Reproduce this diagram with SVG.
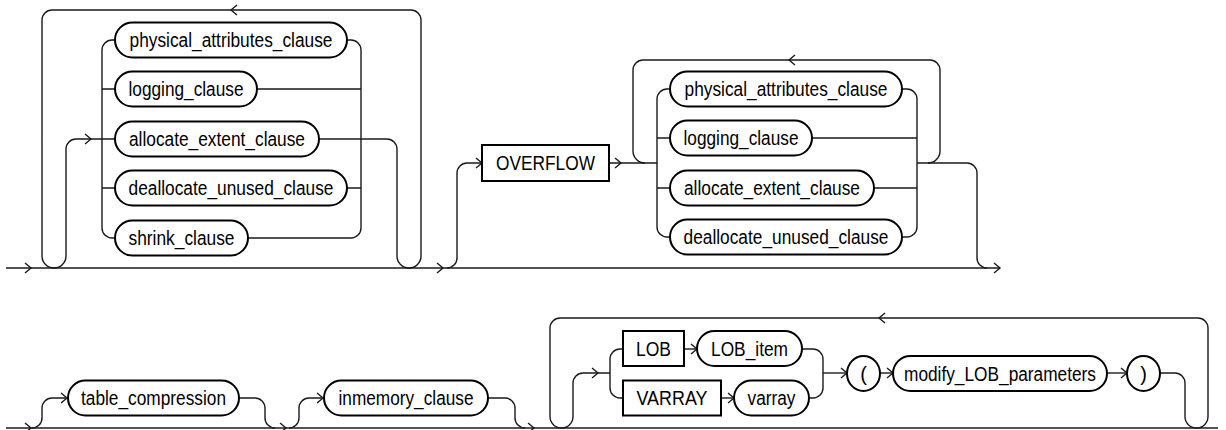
<svg xmlns="http://www.w3.org/2000/svg" xmlns:xlink="http://www.w3.org/1999/xlink" width="1226" height="430" viewBox="0 0 1226 430">
<style>
.ln{fill:none;stroke:#1a1a1a;stroke-width:1.4}
.nt{fill:#fff;stroke:#000;stroke-width:2}
.tx{font-family:"Liberation Sans",Arial,sans-serif;font-size:20px;fill:#000;text-anchor:middle}
</style>
<defs>
<path id="ar" d="M -6 -5 L 0 0 L -6 5" fill="none" stroke="#1a1a1a" stroke-width="1.4"/>
</defs>
<rect width="1226" height="430" fill="#fff"/>
<g id="connectors">
<path class="ln" d="M 6 268 L 1000 268"/>
<use xlink:href="#ar" transform="translate(31,268)"/>
<use xlink:href="#ar" transform="translate(1000,268)"/>
<path class="ln" d="M 115 139 L 76 139 A 10 10 0 0 0 66 149 L 66 256 A 12 12 0 0 1 42 256 L 42 20 A 10 10 0 0 1 52 10 L 411 10 A 10 10 0 0 1 421 20 L 421 256 A 12 12 0 0 1 397 256 L 397 149 A 10 10 0 0 0 387 139 L 319 139"/>
<use xlink:href="#ar" transform="translate(91,139)"/>
<use xlink:href="#ar" transform="translate(231,10) rotate(180)"/>
<path class="ln" d="M 115 40 L 112 40 A 10 10 0 0 0 102 50 L 102 228 A 10 10 0 0 0 112 238 L 115 238"/>
<path class="ln" d="M 102 89 L 115 89 M 102 188 L 115 188"/>
<path class="ln" d="M 347 40 L 351 40 A 10 10 0 0 1 361 50 L 361 228 A 10 10 0 0 1 351 238 L 248 238"/>
<path class="ln" d="M 257 89 L 361 89 M 347 188 L 361 188"/>
<path class="ln" d="M 447 268 A 10 10 0 0 0 457 258 L 457 173 A 10 10 0 0 1 467 163 L 482 163"/>
<use xlink:href="#ar" transform="translate(443,268)"/>
<use xlink:href="#ar" transform="translate(482,163)"/>
<path class="ln" d="M 609 163 L 657 163"/>
<use xlink:href="#ar" transform="translate(621,163)"/>
<path class="ln" d="M 645 163 A 12 12 0 0 1 633 151 L 633 70 A 10 10 0 0 1 643 60 L 930 60 A 10 10 0 0 1 940 70 L 940 151 A 12 12 0 0 1 928 163"/>
<use xlink:href="#ar" transform="translate(789,60) rotate(180)"/>
<path class="ln" d="M 670 89 L 667 89 A 10 10 0 0 0 657 99 L 657 227 A 10 10 0 0 0 667 237 L 670 237"/>
<path class="ln" d="M 657 138 L 670 138 M 657 188 L 670 188"/>
<path class="ln" d="M 902 89 L 907 89 A 10 10 0 0 1 917 99 L 917 227 A 10 10 0 0 1 907 237 L 902 237"/>
<path class="ln" d="M 812 138 L 917 138 M 874 188 L 917 188"/>
<path class="ln" d="M 917 163 L 967 163 A 10 10 0 0 1 977 173 L 977 258 A 10 10 0 0 0 987 268"/>
<path class="ln" d="M 6 428 L 1218 428"/>
<use xlink:href="#ar" transform="translate(31,428)"/>
<path class="ln" d="M 32 428 A 10 10 0 0 0 42 418 L 42 408 A 10 10 0 0 1 52 398 L 68 398"/>
<use xlink:href="#ar" transform="translate(67,398)"/>
<path class="ln" d="M 239 398 L 255 398 A 10 10 0 0 1 265 408 L 265 418 A 10 10 0 0 0 275 428"/>
<use xlink:href="#ar" transform="translate(286,428)"/>
<path class="ln" d="M 289 428 A 10 10 0 0 0 299 418 L 299 408 A 10 10 0 0 1 309 398 L 324 398"/>
<use xlink:href="#ar" transform="translate(323,398)"/>
<path class="ln" d="M 488 398 L 505 398 A 10 10 0 0 1 515 408 L 515 418 A 10 10 0 0 0 525 428"/>
<use xlink:href="#ar" transform="translate(534,428)"/>
<path class="ln" d="M 610 373 L 583 373 A 10 10 0 0 0 573 383 L 573 416.5 A 11.5 11.5 0 0 1 550 416.5 L 550 328 A 10 10 0 0 1 560 318 L 1198 318 A 10 10 0 0 1 1208 328 L 1208 416.5 A 11.5 11.5 0 0 1 1185 416.5 L 1185 383 A 10 10 0 0 0 1175 373 L 1160 373"/>
<use xlink:href="#ar" transform="translate(598,373)"/>
<use xlink:href="#ar" transform="translate(879,318) rotate(180)"/>
<path class="ln" d="M 623 349 L 620 349 A 10 10 0 0 0 610 359 L 610 388 A 10 10 0 0 0 620 398 L 623 398"/>
<path class="ln" d="M 684 349 L 697 349"/>
<use xlink:href="#ar" transform="translate(697,349)"/>
<path class="ln" d="M 721 398 L 734 398"/>
<use xlink:href="#ar" transform="translate(734,398)"/>
<path class="ln" d="M 802 349 L 813 349 A 10 10 0 0 1 823 359 L 823 388 A 10 10 0 0 1 813 398 L 809 398"/>
<path class="ln" d="M 823 373 L 847 373"/>
<use xlink:href="#ar" transform="translate(847,373)"/>
<path class="ln" d="M 880 373 L 893 373"/>
<use xlink:href="#ar" transform="translate(893,373)"/>
<path class="ln" d="M 1107 373 L 1127 373"/>
<use xlink:href="#ar" transform="translate(1127,373)"/>
</g>
<g id="nA1"><rect class="nt" x="115" y="22.5" width="232" height="35" rx="17.5"/><text class="tx" x="231" y="47" textLength="203" lengthAdjust="spacingAndGlyphs">physical_attributes_clause</text></g>
<g id="nA2"><rect class="nt" x="115" y="71.5" width="142" height="35" rx="17.5"/><text class="tx" x="186" y="96" textLength="115" lengthAdjust="spacingAndGlyphs">logging_clause</text></g>
<g id="nA3"><rect class="nt" x="115" y="121.5" width="204" height="35" rx="17.5"/><text class="tx" x="217" y="146" textLength="176" lengthAdjust="spacingAndGlyphs">allocate_extent_clause</text></g>
<g id="nA4"><rect class="nt" x="115" y="170.5" width="232" height="35" rx="17.5"/><text class="tx" x="231" y="195" textLength="205" lengthAdjust="spacingAndGlyphs">deallocate_unused_clause</text></g>
<g id="nA5"><rect class="nt" x="115" y="220.5" width="133" height="35" rx="17.5"/><text class="tx" x="181.5" y="245" textLength="106" lengthAdjust="spacingAndGlyphs">shrink_clause</text></g>
<g id="nOverflow"><rect class="nt" x="482" y="145" width="127" height="36"/><text class="tx" x="545.5" y="170" textLength="99" lengthAdjust="spacingAndGlyphs">OVERFLOW</text></g>
<g id="nB1"><rect class="nt" x="670" y="71.5" width="232" height="35" rx="17.5"/><text class="tx" x="786" y="96" textLength="203" lengthAdjust="spacingAndGlyphs">physical_attributes_clause</text></g>
<g id="nB2"><rect class="nt" x="670" y="120.5" width="142" height="35" rx="17.5"/><text class="tx" x="741" y="145" textLength="115" lengthAdjust="spacingAndGlyphs">logging_clause</text></g>
<g id="nB3"><rect class="nt" x="670" y="170.5" width="204" height="35" rx="17.5"/><text class="tx" x="772" y="195" textLength="176" lengthAdjust="spacingAndGlyphs">allocate_extent_clause</text></g>
<g id="nB4"><rect class="nt" x="670" y="219.5" width="232" height="35" rx="17.5"/><text class="tx" x="786" y="244" textLength="205" lengthAdjust="spacingAndGlyphs">deallocate_unused_clause</text></g>
<g id="nTableCompression"><rect class="nt" x="68" y="380.5" width="171" height="35" rx="17.5"/><text class="tx" x="153.5" y="405" textLength="145" lengthAdjust="spacingAndGlyphs">table_compression</text></g>
<g id="nInmemory"><rect class="nt" x="324" y="380.5" width="164" height="35" rx="17.5"/><text class="tx" x="406" y="405" textLength="135" lengthAdjust="spacingAndGlyphs">inmemory_clause</text></g>
<g id="nLOB"><rect class="nt" x="623" y="331" width="61" height="35"/><text class="tx" x="653.5" y="356" textLength="35" lengthAdjust="spacingAndGlyphs">LOB</text></g>
<g id="nLOBitem"><rect class="nt" x="697" y="331" width="105" height="35" rx="17.5"/><text class="tx" x="749.5" y="356" textLength="77" lengthAdjust="spacingAndGlyphs">LOB_item</text></g>
<g id="nVARRAY"><rect class="nt" x="623" y="380.5" width="98" height="35"/><text class="tx" x="672" y="405" textLength="71" lengthAdjust="spacingAndGlyphs">VARRAY</text></g>
<g id="nVarray"><rect class="nt" x="734" y="380.5" width="75" height="35" rx="17.5"/><text class="tx" x="771.5" y="405" textLength="48" lengthAdjust="spacingAndGlyphs">varray</text></g>
<g id="nLParen"><rect class="nt" x="847" y="356" width="33" height="35" rx="16.5" ry="17.5"/><text class="tx" x="863.5" y="380.5">(</text></g>
<g id="nModifyLOB"><rect class="nt" x="893" y="356" width="214" height="35" rx="17.5"/><text class="tx" x="1000" y="380.5" textLength="192" lengthAdjust="spacingAndGlyphs">modify_LOB_parameters</text></g>
<g id="nRParen"><rect class="nt" x="1127" y="356" width="33" height="35" rx="16.5" ry="17.5"/><text class="tx" x="1143.5" y="380.5">)</text></g>
</svg>
